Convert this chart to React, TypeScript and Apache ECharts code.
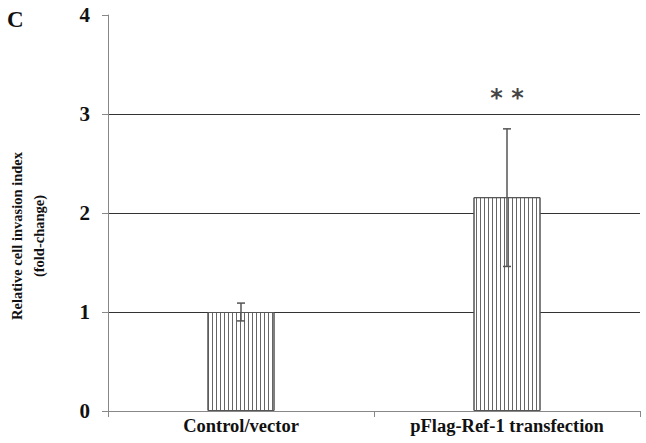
import React, { useEffect, useRef } from "react";
import * as echarts from "echarts";

const categories = ["Control/vector", "pFlag-Ref-1 transfection"];
const means = [1.0, 2.16];
const errLow = [0.91, 1.46];
const errHigh = [1.09, 2.85];
const annotations = ["", "* *"];
const annotationY = [0, 3.0];
const yTicks = [0, 1, 2, 3, 4];

export default function App() {
  const ref = useRef<HTMLDivElement>(null);
  useEffect(() => {
    const chart = echarts.init(ref.current!, undefined, { renderer: "svg" });
    const font = "'Liberation Serif', 'Times New Roman', serif";
    chart.setOption({
      animation: false,
      backgroundColor: "#fff",
      grid: { left: 108, right: 6, top: 15, bottom: 32 },
      xAxis: {
        type: "category",
        data: categories,
        axisLine: { lineStyle: { color: "#888", width: 1 } },
        axisTick: { show: true, length: 6, lineStyle: { color: "#888" } },
        axisLabel: { color: "#111", fontFamily: font, fontWeight: "bold", fontSize: 18.5, margin: 5 },
      },
      yAxis: {
        type: "value",
        min: yTicks[0],
        max: yTicks[yTicks.length - 1],
        interval: 1,
        axisLine: { show: true, lineStyle: { color: "#888", width: 1 } },
        axisTick: { show: true, length: 6, lineStyle: { color: "#888" } },
        axisLabel: { color: "#111", fontFamily: font, fontWeight: "bold", fontSize: 21, margin: 18 },
        splitLine: {
          show: true,
          lineStyle: { color: ["#333", "#333", "#333", "#333", "rgba(0,0,0,0)"], width: 1.2 },
        },
      },
      graphic: [
        {
          type: "text",
          left: 7,
          top: 8,
          style: { text: "C", fontFamily: font, fontWeight: "bold", fontSize: 23, fill: "#111" },
        },
        {
          type: "text",
          x: 28,
          y: 236,
          rotation: Math.PI / 2,
          style: {
            text: "Relative cell invasion index\n(fold-change)",
            fontFamily: font,
            fontWeight: "bold",
            fontSize: 14.5,
            lineHeight: 22,
            fill: "#111",
            align: "center",
            verticalAlign: "middle",
          },
        },
      ],
      series: [
        {
          type: "bar",
          data: means,
          barWidth: 67,
          itemStyle: {
            color: "#fff",
            borderColor: "#555",
            borderWidth: 1,
            decal: {
              symbol: "rect",
              symbolSize: 1,
              color: "#666",
              dashArrayX: [1, 2.5],
              dashArrayY: [4, 0],
              rotation: 0,
            },
          },
          z: 2,
        },
        {
          type: "custom",
          data: categories.map((_, i) => [i, errLow[i], errHigh[i]]),
          renderItem: (params: any, api: any) => {
            const x = api.value(0);
            const lo = api.coord([x, api.value(1)]);
            const hi = api.coord([x, api.value(2)]);
            const cap = 4;
            const st = { stroke: "#555", lineWidth: 1.5 };
            return {
              type: "group",
              children: [
                { type: "line", shape: { x1: hi[0], y1: hi[1], x2: lo[0], y2: lo[1] }, style: st },
                { type: "line", shape: { x1: hi[0] - cap, y1: hi[1], x2: hi[0] + cap, y2: hi[1] }, style: st },
                { type: "line", shape: { x1: lo[0] - cap, y1: lo[1], x2: lo[0] + cap, y2: lo[1] }, style: st },
              ],
            };
          },
          z: 5,
        },
        {
          type: "scatter",
          symbolSize: 0,
          data: categories.map((_, i) => ({ value: [i, annotationY[i]], name: annotations[i] })),
          label: {
            show: true,
            position: "inside",
            formatter: (p: any) => p.name,
            fontFamily: "'DejaVu Sans', sans-serif",
            fontWeight: "bold",
            fontSize: 24,
            color: "#111",
            offset: [0, -16],
          },
          z: 6,
        },
      ],
    });
    return () => chart.dispose();
  }, []);
  return <div ref={ref} style={{ width: 646, height: 443, position: "absolute", left: 0, top: 0 }} />;
}
